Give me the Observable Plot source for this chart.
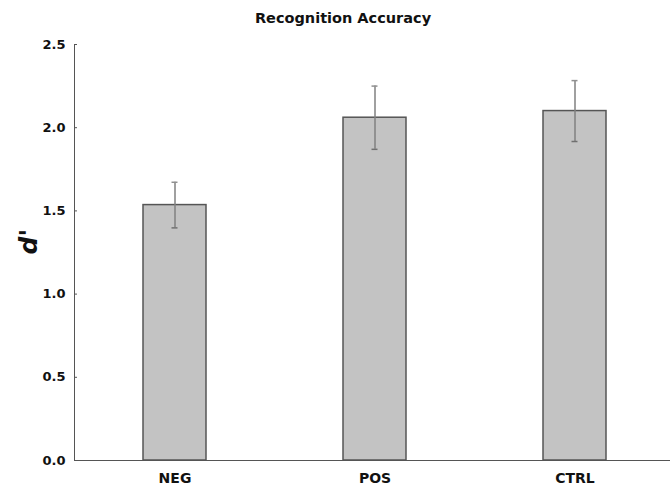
<!DOCTYPE html>
<html>
<head>
<meta charset="utf-8">
<script src="https://cdn.jsdelivr.net/npm/d3@7"></script>
<script src="https://cdn.jsdelivr.net/npm/@observablehq/plot@0.6"></script>
<style>
  body { margin: 0; background: #fff; }
  #title { height: 34px; width: 670px; box-sizing: border-box; padding-left: 16px; text-align: center;
           font: bold 14.5px "DejaVu Sans", sans-serif; line-height: 36px; color: #111; }
</style>
</head>
<body>
<div id="title">Recognition Accuracy</div>
<div id="chart"></div>
<script>
const conditions = ["NEG", "POS", "CTRL"];
const meanDprime = [1.535, 2.06, 2.10];
const errDprime = [0.137, 0.19, 0.183];
const yTicks = [0, 0.5, 1.0, 1.5, 2.0, 2.5];

const data = conditions.map((c, i) => ({
  cond: c, mean: meanDprime[i], lo: meanDprime[i] - errDprime[i], hi: meanDprime[i] + errDprime[i]
}));

const fontFam = "DejaVu Sans, sans-serif";
const plot = Plot.plot({
  width: 670,
  height: 454,
  marginLeft: 74,
  marginRight: 0,
  marginTop: 10,
  marginBottom: 28,
  style: { fontFamily: fontFam, fontWeight: "bold", fontSize: "13px", color: "#111", background: "#fff" },
  x: { domain: conditions, range: [74, 674], paddingInner: 0.685, paddingOuter: 0.3425, label: null },
  y: { domain: [0, 2.5], label: null },
  marks: [
    Plot.barY(data, { x: "cond", y: "mean", fill: "#c3c3c3", stroke: "#555", strokeWidth: 1.5 }),
    Plot.ruleX(data, { x: "cond", y1: "lo", y2: "hi", stroke: "#808080", strokeWidth: 1.5 }),
    Plot.tickY(data, { x: "cond", y: "hi", stroke: "#909090", strokeWidth: 1.5, insetLeft: 28.5, insetRight: 28.5 }),
    Plot.tickY(data, { x: "cond", y: "lo", stroke: "#707070", strokeWidth: 1.5, insetLeft: 28.5, insetRight: 28.5 }),
    Plot.ruleY(yTicks, { y: d => d, stroke: "#555", insetRight: 593 }),
    Plot.ruleY([0], { stroke: "#555", strokeWidth: 1 }),
    Plot.axisY(yTicks, { tickSize: 0, tickPadding: 9, tickFormat: d3.format(".1f"), fontSize: 13, fontWeight: "bold", label: null }),
    Plot.axisX({ tickSize: 0, tickPadding: 13, fontSize: 14, fontWeight: "bold", label: null }),
    Plot.text(["d'"], { frameAnchor: "left", rotate: -90, dx: -46, dy: 2, fontSize: 25, fontStyle: "italic", fontWeight: "bold", fill: "#111" })
  ]
});
document.getElementById("chart").appendChild(plot);
// left axis line drawn with the y scale
const ys = plot.scale("y");
d3.select(plot).append("line")
  .attr("x1", 74.5).attr("x2", 74.5)
  .attr("y1", ys.apply(0)).attr("y2", ys.apply(2.5))
  .attr("stroke", "#555");
</script>
</body>
</html>
